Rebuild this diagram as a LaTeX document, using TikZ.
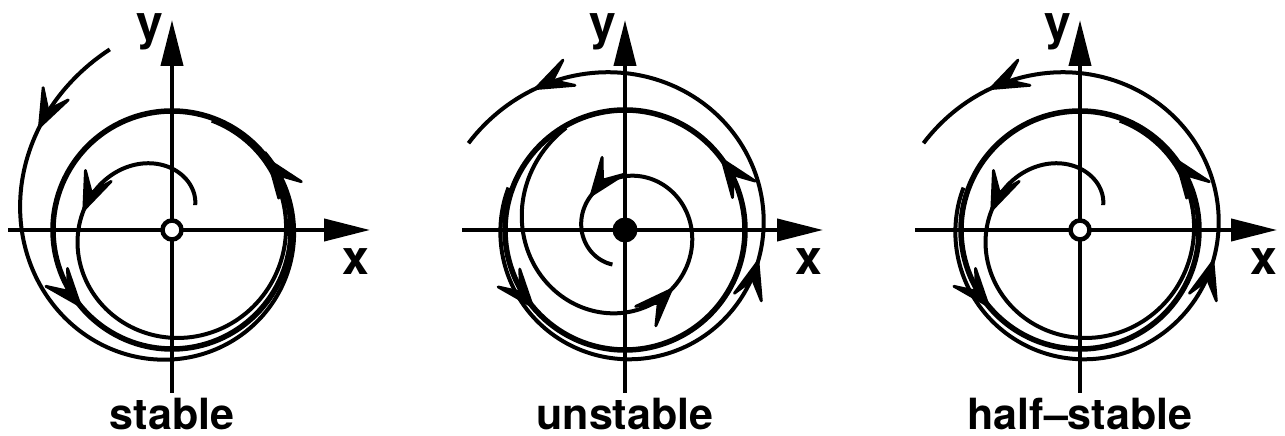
\documentclass[tikz,border=0pt]{standalone}
\usepackage{fontspec}
\setmainfont{TeX Gyre Heros}
\usetikzlibrary{arrows.meta,decorations.markings}
\tikzset{
  axisline/.style={line width=4pt,-{Triangle[length=46pt,width=22pt]}},
  traj/.style={line width=4pt},
  cyc/.style={line width=5.5pt},
  arr/.style={postaction={decorate,decoration={markings,mark=at position #1 with {%
      \filldraw[line width=2.8pt,line join=round,solid] (0pt,0pt) -- (-37pt,14pt) -- (-19pt,0pt) -- (-37pt,-14pt) -- cycle;}}}},
  axlab/.style={inner sep=0pt,font=\fontsize{48pt}{48pt}\selectfont\bfseries},
  lab/.style={inner sep=0pt,font=\fontsize{43pt}{43pt}\selectfont\bfseries},
  openorigin/.style={circle,draw,fill=white,line width=4.5pt,minimum size=19pt,inner sep=0pt},
  fullorigin/.style={circle,fill=black,minimum size=25pt,inner sep=0pt}
}
\begin{document}
\begin{tikzpicture}[x=1pt,y=1pt,
  declare function={
    rso(\t)=118+73*exp(-(\t-109)/87);
    rsi(\t)=119-85*exp(-(\t-47)/110);
    ruo(\t)=120+59*exp((\t-511)/130);
    rui(\t)=118*exp(-(\t-120)/420);
  }]
\useasboundingbox (0,0) rectangle (1285,436);

% ---------- stable ----------
\begin{scope}[shift={(172,206)}]
  \draw[axisline] (-164,0) -- (198,0);
  \draw[axisline] (0,-163) -- (0,210);
  \node[axlab] (x1) at (184,-31.5) {x};
  \node[axlab,anchor=base] (y1) at (-22,190) {y};
  \draw[cyc,arr=0.1,arr=0.61] (119,0) arc[start angle=0,end angle=360,radius=119];
  \draw[traj,arr=106pt] plot[variable=\t,domain=109:400,samples=160] ({rso(\t)*cos(\t)},{rso(\t)*sin(\t)});
  \draw[traj,arr=155pt] plot[variable=\t,domain=47:430,samples=160] ({rsi(\t)*cos(\t)},{rsi(\t)*sin(\t)});
  \node[openorigin] (o1) at (0,0) {};
  \node[lab,anchor=base] (l1) at (0,-200) {stable};
\end{scope}

% ---------- unstable ----------
\begin{scope}[shift={(625,206)}]
  \draw[axisline] (-163,0) -- (198,0);
  \draw[axisline] (0,-163) -- (0,210);
  \node[axlab] (x2) at (184,-31.5) {x};
  \node[axlab,anchor=base] (y2) at (-22,190) {y};
  \draw[cyc,arr=0.1,arr=0.61] (120,0) arc[start angle=0,end angle=360,radius=120];
  \draw[traj,arr=420pt,arr=775pt] plot[variable=\t,domain=160:511,samples=180] ({ruo(\t)*cos(\t)},{ruo(\t)*sin(\t)});
  \draw[traj,arr=315pt,arr=515pt] plot[variable=\t,domain=120:610,samples=200] ({rui(\t)*cos(\t)},{rui(\t)*sin(\t)});
  \node[fullorigin] (o2) at (0,0) {};
  \node[lab,anchor=base] (l2) at (0,-200) {unstable};
\end{scope}

% ---------- half-stable ----------
\begin{scope}[shift={(1080,206)}]
  \draw[axisline] (-165,0) -- (197,0);
  \draw[axisline] (0,-163) -- (0,210);
  \node[axlab] (x3) at (184,-31.5) {x};
  \node[axlab,anchor=base] (y3) at (-22,190) {y};
  \draw[cyc,arr=0.1,arr=0.61] (119,0) arc[start angle=0,end angle=360,radius=119];
  \draw[traj,arr=420pt,arr=775pt] plot[variable=\t,domain=160:511,samples=180] ({ruo(\t)*cos(\t)},{ruo(\t)*sin(\t)});
  \draw[traj,arr=155pt] plot[variable=\t,domain=47:430,samples=160] ({rsi(\t)*cos(\t)},{rsi(\t)*sin(\t)});
  \node[openorigin] (o3) at (0,0) {};
  \node[lab,anchor=base] (l3) at (0,-200) {half–stable};
\end{scope}
\end{tikzpicture}
\end{document}
